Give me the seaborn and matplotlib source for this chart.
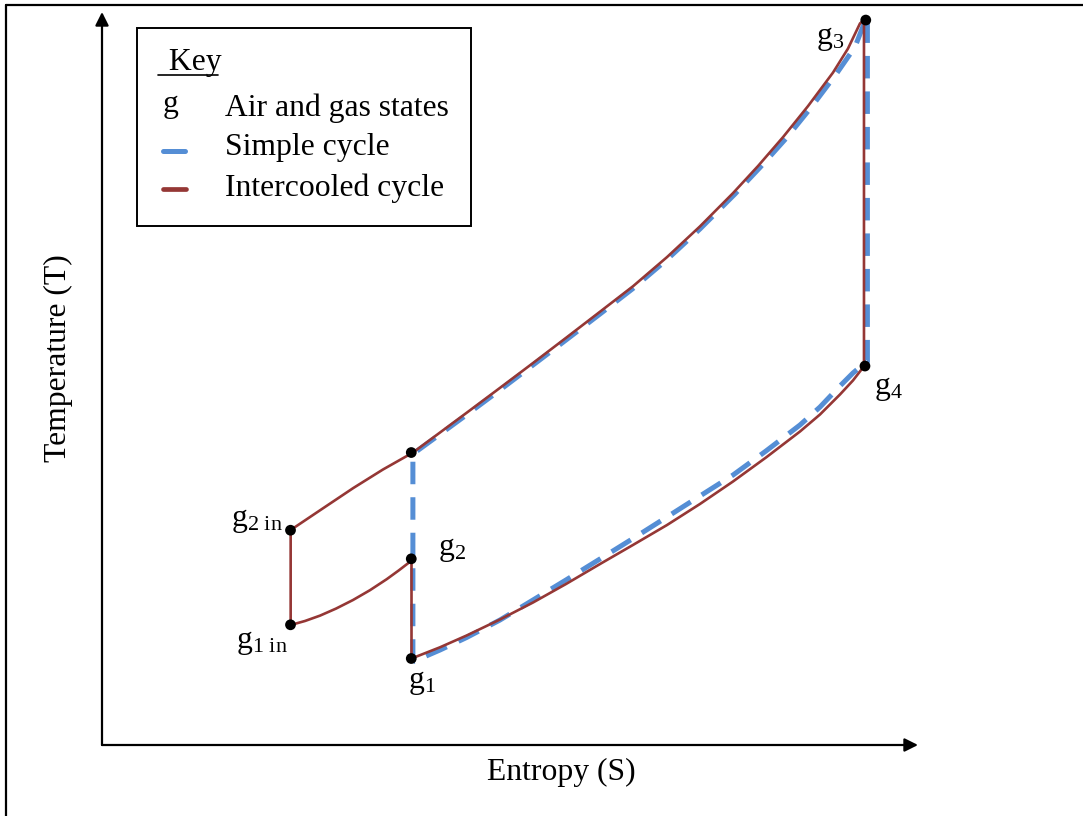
import matplotlib
matplotlib.use("Agg")
import matplotlib.pyplot as plt
from matplotlib.lines import Line2D
from matplotlib.patches import Rectangle
import pandas as pd
import seaborn as sns

# state points (entropy, temperature) in arbitrary chart units
state_names = ["g1", "g2", "g1in", "g2in", "g2s", "g3", "g4"]
state_s = [37.9, 37.9, 23.1, 23.1, 37.9, 93.6, 93.5]
state_t = [11.8, 25.4, 16.4, 29.3, 39.9, 98.9, 51.7]
state_labels = [r"g$_1$", r"g$_2$", r"g$_{\mathrm{1\ in}}$", r"g$_{\mathrm{2\ in}}$", "", r"g$_3$", r"g$_4$"]

# simple cycle: g1 -> g2s -> g3 -> g4 -> g1
simple_s = [38.1, 38.1, 41.42, 44.73, 48.77, 52.82, 56.86, 61.03, 65.07, 69.24,
            73.28, 77.57, 80.64, 83.82, 86.89, 90.07, 92.28, 93.8,
            93.8, 93.63, 92.03, 90.44, 87.99, 85.54, 81.37, 77.33, 73.28, 69.24,
            65.07, 61.03, 56.86, 52.82, 48.77, 44.69, 41.42, 38.1]
simple_t = [11.36, 39.70, 42.39, 45.09, 48.43, 51.84, 55.25, 58.80, 62.28, 66.23,
            70.40, 75.17, 78.79, 82.74, 86.97, 91.68, 95.23, 99.59,
            52.25, 52.25, 50.75, 48.98, 46.11, 43.66, 40.11, 36.83, 33.97, 31.11,
            28.17, 25.38, 22.51, 19.78, 17.05, 14.67, 12.96, 11.36]

# intercooled cycle: g1 -> g2 -> g1in -> g2in -> g2s -> g3 -> g4 -> g1
inter_s = [37.93, 37.93, 37.75, 36.36, 34.89, 32.84, 30.76, 28.68, 26.72, 24.88, 23.12,
           23.12, 26.96, 30.80, 34.44, 38.08,
           41.42, 44.73, 48.77, 52.82, 56.86, 61.03, 65.07, 69.24, 73.28, 77.33,
           80.39, 83.46, 86.52, 89.58, 91.42, 92.89, 93.38,
           93.38, 93.50, 92.03, 90.44, 87.99, 85.54, 81.37, 77.33, 73.28, 69.24,
           65.07, 61.03, 56.86, 52.82, 48.77, 44.69, 41.42, 37.93]
inter_t = [11.80, 25.20, 25.00, 23.81, 22.62, 21.12, 19.78, 18.61, 17.65, 16.92, 16.37,
           29.33, 32.20, 35.06, 37.59, 39.88,
           42.63, 45.36, 48.72, 52.11, 55.54, 59.11, 62.58, 66.56, 70.75, 75.29,
           78.98, 82.93, 87.16, 91.73, 95.01, 98.44, 98.91,
           51.71, 51.84, 49.73, 47.82, 45.09, 42.77, 39.22, 35.95, 32.88, 30.01,
           27.29, 24.69, 21.96, 19.44, 17.12, 14.94, 13.33, 11.80]

W, H = 1083, 816


def fx(px):
    return px / W


def fy(py):
    return 1 - py / H


sns.set_theme(style="white")
plt.rcParams["font.family"] = ["Liberation Serif", "DejaVu Serif"]
plt.rcParams["mathtext.fontset"] = "custom"
plt.rcParams["mathtext.rm"] = "Liberation Serif"
plt.rcParams["mathtext.it"] = "Liberation Serif"
plt.rcParams["text.color"] = "black"

blue = "#558ED5"
red = "#953735"
fs = 22.8

fig = plt.figure(figsize=(W / 100, H / 100), dpi=100)
fig.patch.set_facecolor("white")
ax = fig.add_axes([fx(102), fy(745), fx(918) - fx(102), fy(12) - fy(745)])
ax.set_xlim(0, 100)
ax.set_ylim(0, 100)
ax.set_axis_off()

simple = pd.DataFrame({"S": simple_s, "T": simple_t})
inter = pd.DataFrame({"S": inter_s, "T": inter_t})
states = pd.DataFrame({"S": state_s, "T": state_t, "name": state_names, "label": state_labels})

sns.lineplot(data=simple, x="S", y="T", sort=False, estimator=None, ax=ax,
             color=blue, lw=3.6, linestyle=(0, (4.5, 2.6)), zorder=2)
sns.lineplot(data=inter, x="S", y="T", sort=False, estimator=None, ax=ax,
             color=red, lw=1.9, zorder=3)
sns.scatterplot(data=states, x="S", y="T", ax=ax, color="black", s=60,
                edgecolor="none", zorder=4, clip_on=False)

# label offsets in pixels
offsets = {
    "g1": ((-3, -24), "left"),
    "g2": ((27, 9), "left"),
    "g1in": ((-3, -18), "right"),
    "g2in": ((-8, 10), "right"),
    "g3": ((-50, -18), "left"),
    "g4": ((9, -22), "left"),
}
for _, row in states.iterrows():
    if row["name"] not in offsets:
        continue
    off, ha = offsets[row["name"]]
    ax.annotate(row["label"], xy=(row["S"], row["T"]), xytext=off,
                textcoords="offset pixels", ha=ha, va="center", fontsize=fs,
                color="black")

# axis arrows
arrow = dict(arrowstyle="-|>", lw=1.6, color="black", mutation_scale=20,
             shrinkA=0, shrinkB=0)
ax.annotate("", xy=(0, 1), xytext=(0, 0), xycoords="axes fraction",
            arrowprops=arrow, annotation_clip=False)
ax.annotate("", xy=(1, 0), xytext=(0, 0), xycoords="axes fraction",
            arrowprops=arrow, annotation_clip=False)

fig.text(fx(561), fy(780), "Entropy (S)", ha="center", va="baseline", fontsize=fs)
fig.text(fx(58), fy(358), "Temperature (T)", ha="center", va="center",
         rotation=90, fontsize=fs)

# key box
fig.add_artist(Rectangle((fx(137), fy(226)), fx(471) - fx(137), fy(28) - fy(226),
                         transform=fig.transFigure, fill=False, lw=1.4,
                         edgecolor="black"))
fig.text(fx(161), fy(70), " Key", ha="left", va="baseline", fontsize=fs)
fig.add_artist(Line2D([fx(158), fx(218)], [fy(75), fy(75)], color="black", lw=1.2))
fig.text(fx(163), fy(112), "g", ha="left", va="baseline", fontsize=fs)
fig.text(fx(225), fy(116), "Air and gas states", ha="left", va="baseline", fontsize=fs)
fig.add_artist(Line2D([fx(163), fx(185)], [fy(150.5), fy(150.5)], color=blue, lw=3.6))
fig.text(fx(225), fy(155), "Simple cycle", ha="left", va="baseline", fontsize=fs)
fig.add_artist(Line2D([fx(163), fx(186)], [fy(188.5), fy(188.5)], color=red, lw=3.4))
fig.text(fx(225), fy(196), "Intercooled cycle", ha="left", va="baseline", fontsize=fs)

# outer frame (left and top edges visible)
fig.add_artist(Line2D([fx(6), fx(6)], [fy(5), 0], color="black", lw=1.6))
fig.add_artist(Line2D([fx(6), 1], [fy(5), fy(5)], color="black", lw=1.6))

fig.savefig("out.png", dpi=100)
